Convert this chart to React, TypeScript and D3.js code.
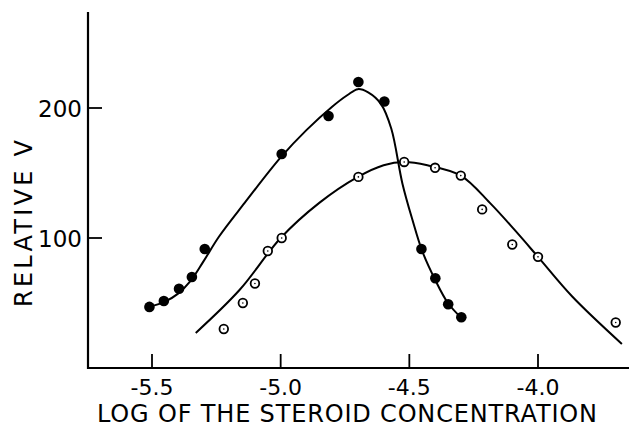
import React from "react";
import * as d3 from "d3";

const xTickValues = [-5.5, -5.0, -4.5, -4.0];
const xTickLabels = ["-5.5", "-5.0", "-4.5", "-4.0"];
const yTickValues = [100, 200];
const yTickLabels = ["100", "200"];

const filledLogC = [-5.51, -5.454, -5.395, -5.345, -5.295, -4.996, -4.814, -4.698, -4.597, -4.453, -4.399, -4.349, -4.298];
const filledV = [47, 51.5, 61, 70, 91.5, 164.6, 193.8, 220, 205, 91.5, 69, 49, 39];

const openLogC = [-5.221, -5.147, -5.1, -5.05, -4.996, -4.698, -4.52, -4.4, -4.3, -4.217, -4.1, -4.0, -3.698];
const openV = [30, 50, 65, 90, 100, 147, 158.5, 154, 148, 122, 95, 85.5, 35];

const fitFilledLogC = [-5.51, -5.45, -5.40, -5.35, -5.30, -5.24, -5.14, -5.0, -4.90, -4.80, -4.74, -4.70, -4.66, -4.61, -4.57, -4.527, -4.488, -4.45, -4.40, -4.35, -4.30];
const fitFilledV = [47, 51, 57, 67, 82, 101, 127, 162, 183, 201, 210, 214.5, 212, 203, 184, 142, 114, 90, 68, 50, 39];

const fitOpenLogC = [-5.33, -5.16, -5.0, -4.85, -4.70, -4.60, -4.52, -4.43, -4.3, -4.187, -4.09, -4.0, -3.867, -3.674];
const fitOpenV = [27, 60, 100, 127, 147, 156, 158.5, 156, 148, 127, 106, 85.5, 55, 18.5];

const W = 629;
const H = 427;
const FONT = "'DejaVu Sans', 'Liberation Sans', sans-serif";

export default function App() {
  const x = d3.scaleLinear().domain([-5.5, -4.0]).range([152, 538]);
  const y = d3.scaleLinear().domain([0, 100]).range([368, 238]);
  const x0 = 88;
  const x1 = 629;
  const yBase = y(0);
  const yTop = 12;

  const line = d3
    .line<[number, number]>()
    .x((d) => x(d[0]))
    .y((d) => y(d[1]))
    .curve(d3.curveCatmullRom.alpha(0.5));

  const fitA = fitFilledLogC.map((v, i) => [v, fitFilledV[i]] as [number, number]);
  const fitB = fitOpenLogC.map((v, i) => [v, fitOpenV[i]] as [number, number]);

  return (
    <svg
      width={W}
      height={H}
      style={{ position: "absolute", left: 0, top: 0, display: "block", background: "#fff" }}
    >
      <rect x={0} y={0} width={W} height={H} fill="#fff" />
      <line x1={x0} y1={yTop} x2={x0} y2={yBase + 1} stroke="#000" strokeWidth={2.2} />
      <line x1={x0 - 1} y1={yBase} x2={x1} y2={yBase} stroke="#000" strokeWidth={2.2} />
      {xTickValues.map((v, i) => (
        <g key={"xt" + i}>
          <line x1={x(v)} y1={yBase} x2={x(v)} y2={yBase - 14} stroke="#000" strokeWidth={1.8} />
          <text x={x(v)} y={395} textAnchor="middle" fontFamily={FONT} fontSize={22} fill="#000">
            {xTickLabels[i]}
          </text>
        </g>
      ))}
      {yTickValues.map((v, i) => (
        <g key={"yt" + i}>
          <line x1={x0} y1={y(v)} x2={x0 + 14} y2={y(v)} stroke="#000" strokeWidth={1.8} />
          <text x={82} y={y(v) + 8.5} textAnchor="end" fontFamily={FONT} fontSize={23} fill="#000">
            {yTickLabels[i]}
          </text>
        </g>
      ))}
      <text
        x={347}
        y={422}
        textAnchor="middle"
        fontFamily={FONT}
        fontSize={24}
        textLength={500}
        lengthAdjust="spacing"
        fill="#000"
      >
        LOG OF THE STEROID CONCENTRATION
      </text>
      <text
        transform={`translate(32,223.5) rotate(-90)`}
        x={0}
        y={0}
        textAnchor="middle"
        fontFamily={FONT}
        fontSize={24}
        textLength={167}
        lengthAdjust="spacing"
        fill="#000"
      >
        RELATIVE V
      </text>
      <path d={line(fitA) || ""} fill="none" stroke="#000" strokeWidth={2} />
      <path d={line(fitB) || ""} fill="none" stroke="#000" strokeWidth={2} />
      {filledLogC.map((v, i) => (
        <circle key={"f" + i} cx={x(v)} cy={y(filledV[i])} r={5.3} fill="#000" />
      ))}
      {openLogC.map((v, i) => (
        <g key={"o" + i}>
          <circle cx={x(v)} cy={y(openV[i])} r={4.3} fill="#fff" stroke="#000" strokeWidth={1.8} />
          <circle cx={x(v)} cy={y(openV[i])} r={0.8} fill="#000" />
        </g>
      ))}
    </svg>
  );
}
